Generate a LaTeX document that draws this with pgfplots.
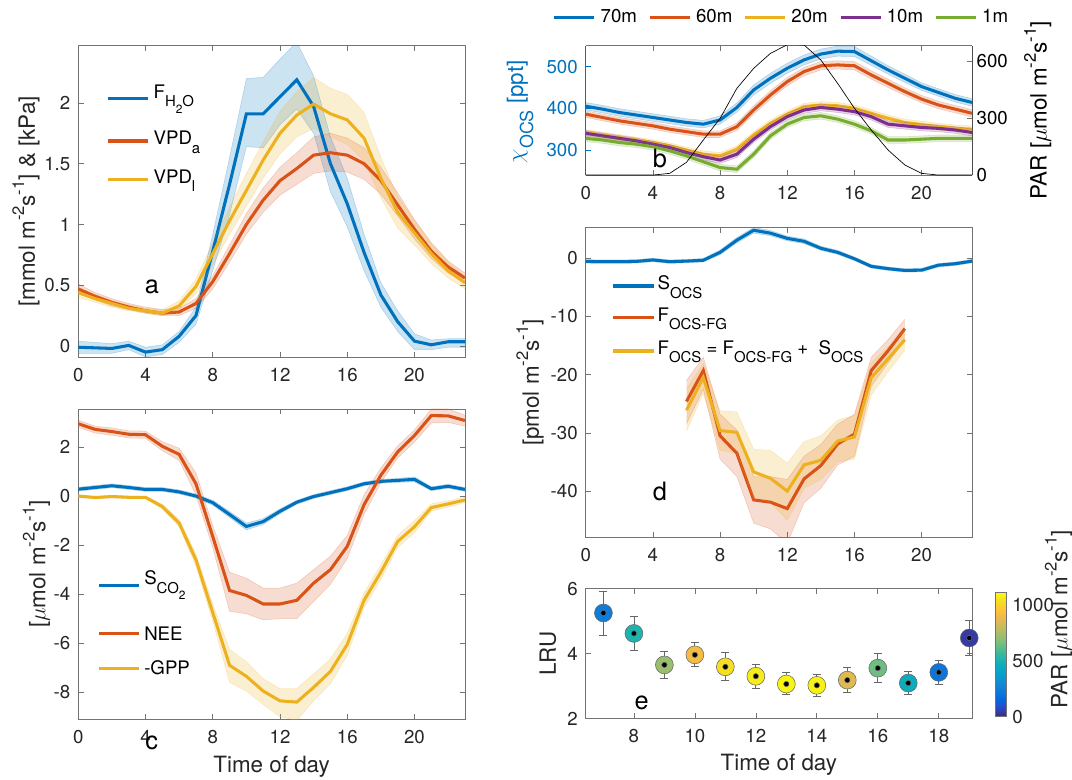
\documentclass[border=0pt]{standalone}
\usepackage{fontspec}
\setmainfont{TeX Gyre Heros}
\usepackage{pgfplots}
\usepackage{pgfplotstable}
\pgfplotsset{compat=1.18}
\usepgfplotslibrary{fillbetween}

\definecolor{mblue}{rgb}{0,0.447,0.741}
\definecolor{mred}{rgb}{0.850,0.325,0.098}
\definecolor{myel}{rgb}{0.929,0.694,0.125}
\definecolor{mpur}{rgb}{0.494,0.184,0.556}
\definecolor{mgrn}{rgb}{0.466,0.674,0.188}
\definecolor{axgray}{rgb}{0.15,0.15,0.15}

% sub- and superscripts in the text font
\makeatletter
\newdimen\scrsz
\newcommand\subs[1]{{\scrsz=\f@size pt\scrsz=0.8\scrsz\raisebox{-0.44em}{\fontsize{\strip@pt\scrsz}{\strip@pt\scrsz}\selectfont #1}}}
\newcommand\sups[1]{{\scrsz=\f@size pt\scrsz=0.74\scrsz\raisebox{0.48em}{\fontsize{\strip@pt\scrsz}{\strip@pt\scrsz}\selectfont #1}}}
\makeatother

% ---------------- data: hour, mean, lower, upper ----------------
\pgfplotstableread{
h m lo hi
0 -0.01 -0.06 0.04
1 -0.015 -0.06 0.03
2 -0.02 -0.06 0.02
3 0.005 -0.03 0.04
4 -0.05 -0.09 -0.01
5 -0.03 -0.07 0.01
6 0.08 0.03 0.12
7 0.25 0.18 0.32
8 0.78 0.62 0.92
9 1.33 1.08 1.55
10 1.91 1.64 2.20
11 1.91 1.63 2.21
12 2.05 1.82 2.36
13 2.19 1.95 2.50
14 1.97 1.75 2.22
15 1.50 1.27 1.72
16 1.17 0.98 1.38
17 0.77 0.62 0.92
18 0.42 0.32 0.52
19 0.20 0.12 0.29
20 0.04 -0.03 0.10
21 0.01 -0.03 0.05
22 0.035 -0.01 0.06
23 0.035 -0.01 0.06
}\tFH
\pgfplotstableread{
h m lo hi
0 0.47 0.43 0.51
1 0.41 0.38 0.44
2 0.36 0.33 0.39
3 0.32 0.30 0.35
4 0.29 0.27 0.32
5 0.27 0.25 0.30
6 0.28 0.25 0.31
7 0.35 0.31 0.39
8 0.53 0.47 0.58
9 0.76 0.69 0.83
10 1.00 0.92 1.09
11 1.20 1.10 1.30
12 1.36 1.24 1.47
13 1.46 1.33 1.59
14 1.57 1.42 1.72
15 1.59 1.44 1.75
16 1.57 1.43 1.71
17 1.50 1.37 1.63
18 1.36 1.25 1.47
19 1.16 1.07 1.26
20 0.96 0.88 1.04
21 0.78 0.72 0.85
22 0.65 0.60 0.70
23 0.56 0.52 0.60
}\tVa
\pgfplotstableread{
h m lo hi
0 0.44 0.40 0.48
1 0.39 0.36 0.42
2 0.35 0.32 0.37
3 0.31 0.29 0.34
4 0.29 0.27 0.31
5 0.27 0.25 0.30
6 0.33 0.30 0.37
7 0.49 0.43 0.55
8 0.76 0.67 0.85
9 1.03 0.92 1.14
10 1.28 1.15 1.42
11 1.53 1.38 1.68
12 1.75 1.58 1.93
13 1.90 1.72 2.09
14 1.99 1.79 2.21
15 1.91 1.72 2.12
16 1.86 1.66 2.07
17 1.71 1.52 1.92
18 1.38 1.22 1.55
19 1.10 0.97 1.23
20 0.93 0.83 1.03
21 0.76 0.68 0.84
22 0.62 0.56 0.69
23 0.52 0.47 0.57
}\tVl

\pgfplotstableread{
h m lo hi
0 0.28 0.20 0.36
1 0.35 0.27 0.43
2 0.42 0.34 0.50
3 0.35 0.27 0.43
4 0.27 0.19 0.35
5 0.27 0.19 0.35
6 0.17 0.09 0.25
7 0.00 -0.08 0.08
8 -0.27 -0.37 -0.17
9 -0.75 -0.87 -0.63
10 -1.24 -1.38 -1.10
11 -1.04 -1.16 -0.92
12 -0.62 -0.72 -0.52
13 -0.25 -0.33 -0.17
14 -0.02 -0.10 0.06
15 0.14 0.06 0.22
16 0.30 0.22 0.38
17 0.50 0.42 0.58
18 0.60 0.52 0.68
19 0.64 0.56 0.72
20 0.68 0.58 0.78
21 0.30 0.22 0.38
22 0.40 0.32 0.48
23 0.27 0.19 0.35
}\tSC
\pgfplotstableread{
h m lo hi
0 2.95 2.80 3.10
1 2.72 2.57 2.85
2 2.63 2.48 2.78
3 2.52 2.37 2.66
4 2.50 2.35 2.65
5 2.03 1.85 2.22
6 1.70 1.45 1.95
7 0.50 0.05 0.95
8 -1.65 -2.10 -1.20
9 -3.85 -4.70 -3.10
10 -4.05 -4.80 -3.35
11 -4.40 -5.05 -3.75
12 -4.40 -5.00 -3.75
13 -4.25 -5.00 -3.55
14 -3.55 -4.30 -3.00
15 -3.00 -3.60 -2.45
16 -2.05 -2.55 -1.60
17 -0.35 -0.75 0.05
18 0.85 0.55 1.15
19 1.80 1.55 2.05
20 2.47 2.20 2.70
21 3.28 2.98 3.55
22 3.27 3.00 3.55
23 3.08 2.85 3.30
}\tNEE
\pgfplotstableread{
h m lo hi
0 0.00 -0.05 0.05
1 -0.06 -0.11 -0.01
2 -0.02 -0.07 0.03
3 -0.05 -0.10 0.00
4 -0.05 -0.10 0.00
5 -0.43 -0.53 -0.33
6 -1.10 -1.25 -0.95
7 -2.60 -2.85 -2.35
8 -4.75 -5.10 -4.40
9 -6.90 -7.60 -6.25
10 -7.35 -7.95 -6.75
11 -7.95 -8.50 -7.45
12 -8.35 -9.00 -7.85
13 -8.40 -9.15 -7.85
14 -7.80 -8.35 -7.25
15 -7.15 -7.65 -6.65
16 -6.05 -6.50 -5.60
17 -4.25 -4.55 -3.95
18 -3.10 -3.40 -2.80
19 -1.85 -2.10 -1.60
20 -1.25 -1.50 -1.00
21 -0.47 -0.62 -0.32
22 -0.32 -0.45 -0.19
23 -0.16 -0.27 -0.05
}\tGPP

\pgfplotstableread{
h m lo hi
0 405 396 414
1 398 389 407
2 390 381 399
3 384 375 393
4 378 369 387
5 372 363 381
6 366 357 375
7 362 353 371
8 372 362 382
9 402 391 413
10 444 432 456
11 472 460 484
12 496 484 508
13 516 504 528
14 530 518 542
15 537 525 549
16 536 524 548
17 514 503 525
18 492 482 502
19 472 462 482
20 452 443 461
21 438 429 447
22 424 415 433
23 414 405 423
}\tBa
\pgfplotstableread{
h m lo hi
0 386 378 394
1 378 370 386
2 370 362 378
3 364 356 372
4 358 350 366
5 350 342 358
6 344 336 352
7 338 330 346
8 338 330 346
9 356 347 365
10 396 386 406
11 432 422 442
12 464 454 474
13 488 478 498
14 502 492 512
15 504 494 514
16 502 492 512
17 480 470 490
18 460 450 470
19 440 431 449
20 422 413 431
21 408 399 417
22 398 389 407
23 388 379 397
}\tBb
\pgfplotstableread{
h m lo hi
0 342 335 349
1 336 329 343
2 330 323 337
3 324 317 331
4 318 311 325
5 310 303 317
6 300 293 307
7 290 282 298
8 286 278 294
9 302 294 310
10 336 328 344
11 364 356 372
12 386 378 394
13 404 396 412
14 408 400 416
15 406 398 414
16 400 392 408
17 388 380 396
18 376 368 384
19 366 358 374
20 361 353 369
21 356 348 364
22 352 344 360
23 350 342 358
}\tBc
\pgfplotstableread{
h m lo hi
0 340 333 347
1 334 327 341
2 328 321 335
3 322 315 329
4 314 307 321
5 306 299 313
6 294 287 301
7 284 276 292
8 276 268 284
9 290 282 298
10 326 318 334
11 356 348 364
12 380 372 388
13 396 388 404
14 402 394 410
15 398 390 406
16 392 384 400
17 380 372 388
18 362 354 370
19 358 350 366
20 354 346 362
21 352 344 360
22 348 340 356
23 342 334 350
}\tBd
\pgfplotstableread{
h m lo hi
0 328 320 336
1 324 316 332
2 318 310 326
3 314 306 322
4 308 300 316
5 298 290 306
6 286 278 294
7 272 264 280
8 258 250 266
9 254 246 262
10 290 282 298
11 334 326 342
12 362 354 370
13 378 370 386
14 382 374 390
15 374 366 382
16 362 354 370
17 346 338 354
18 324 316 332
19 324 316 332
20 326 318 334
21 328 320 336
22 328 320 336
23 328 320 336
}\tBe
\pgfplotstableread{
h par
0 0
1 0
2 0
3 0
4 0
5 9
6 67
7 184
8 298
9 456
10 561
11 640
12 685
13 684
14 605
15 482
16 351
17 237
18 132
19 53
20 9
21 0
22 0
23 0
}\tPAR

\pgfplotstableread{
h m lo hi
0 -0.55 -0.85 -0.25
1 -0.60 -0.90 -0.30
2 -0.60 -0.90 -0.30
3 -0.55 -0.85 -0.25
4 -0.30 -0.60 0.00
5 -0.60 -0.90 -0.30
6 -0.50 -0.80 -0.20
7 -0.35 -0.65 -0.05
8 1.00 0.60 1.40
9 3.10 2.65 3.55
10 4.80 4.30 5.30
11 4.30 3.85 4.75
12 3.40 3.00 3.80
13 2.90 2.50 3.30
14 1.70 1.35 2.05
15 1.00 0.65 1.35
16 -0.10 -0.40 0.20
17 -1.40 -1.70 -1.10
18 -1.80 -2.10 -1.50
19 -2.10 -2.40 -1.80
20 -2.05 -2.35 -1.75
21 -1.20 -1.50 -0.90
22 -0.95 -1.25 -0.65
23 -0.50 -0.80 -0.20
}\tSO
\pgfplotstableread{
h m lo hi
6 -24.6 -28.5 -21.0
7 -19.3 -22.5 -17.0
8 -30.5 -34.5 -26.8
9 -33.5 -37.5 -29.5
10 -41.5 -45.5 -37.5
11 -41.9 -46.5 -37.5
12 -43.0 -49.0 -38.0
13 -37.9 -42.0 -34.0
14 -35.6 -39.5 -32.0
15 -31.9 -35.5 -28.5
16 -30.2 -34.0 -26.8
17 -19.3 -22.0 -17.0
18 -15.9 -18.0 -14.0
19 -12.1 -14.0 -10.5
}\tFG
\pgfplotstableread{
h m lo hi
6 -26.1 -29.7 -22.5
7 -20.5 -23.2 -18.0
8 -29.6 -33.0 -26.2
9 -29.9 -33.5 -26.4
10 -36.7 -41.0 -32.8
11 -37.8 -42.0 -33.0
12 -40.0 -45.0 -35.2
13 -35.5 -39.5 -31.5
14 -34.7 -38.0 -30.5
15 -31.4 -35.0 -27.8
16 -30.7 -34.5 -27.0
17 -20.5 -23.5 -18.0
18 -17.3 -19.5 -15.2
19 -14.0 -15.8 -12.3
}\tFO

% LRU: hour, value, error up, error down, PAR
\pgfplotstableread{
h v ep em par
7 5.25 0.67 0.70 245
8 4.62 0.52 0.51 510
9 3.65 0.43 0.42 720
10 3.96 0.37 0.37 915
11 3.59 0.43 0.41 1040
12 3.30 0.38 0.37 1075
13 3.06 0.35 0.33 1100
14 3.02 0.35 0.35 1090
15 3.18 0.38 0.39 860
16 3.55 0.45 0.45 650
17 3.09 0.35 0.35 460
18 3.42 0.38 0.37 210
19 4.48 0.54 0.53 45
}\tE

% shaded band between the lower and upper columns of a table
\newcommand\band[3]{%
  \addplot[draw=#2, draw opacity=0.25, line width=0.4pt, forget plot, name path=#3u] table[x=h,y=hi]{#1};
  \addplot[draw=#2, draw opacity=0.25, line width=0.4pt, forget plot, name path=#3l] table[x=h,y=lo]{#1};
  \addplot[fill=#2, fill opacity=0.2, draw=none, forget plot] fill between[of=#3u and #3l];
}
% one key entry: colour, line from x1 to x2 at height y, text at (xt, baseline)
\newcommand\keyline[7]{%
  \draw[#1, line width=2.3pt] (#2pt,-#4pt) -- (#3pt,-#4pt);
  \node[anchor=base west, inner sep=0pt] at (#5pt,-#6pt) {#7};
}

\pgfplotsset{
  colormap={parula}{
    rgb=(0.2081,0.1663,0.5292) rgb=(0.2081,0.2386,0.6771)
    rgb=(0.1253,0.3242,0.8303) rgb=(0.0060,0.4086,0.8828)
    rgb=(0.0498,0.4586,0.8641) rgb=(0.0779,0.5040,0.8384)
    rgb=(0.0641,0.5570,0.8240) rgb=(0.0265,0.6137,0.8135)
    rgb=(0.0228,0.6535,0.7768) rgb=(0.0590,0.6838,0.7254)
    rgb=(0.1453,0.7098,0.6646) rgb=(0.2586,0.7317,0.5954)
    rgb=(0.3953,0.7459,0.5244) rgb=(0.5300,0.7491,0.4661)
    rgb=(0.6473,0.7456,0.4188) rgb=(0.7525,0.7384,0.3768)
    rgb=(0.8507,0.7299,0.3360) rgb=(0.9450,0.7261,0.2886)
    rgb=(0.9990,0.7653,0.2164) rgb=(0.9789,0.8271,0.1633)
    rgb=(0.9589,0.8949,0.1132) rgb=(0.9763,0.9831,0.0538)
  },
  panel/.style={
    scale only axis, anchor=north west,
    xmin=0, xmax=23, xtick={0,4,8,12,16,20},
    tick align=inside, major tick length=4pt,
    axis line style={draw=black!55, line width=0.5pt},
    tick style={draw=black!55, line width=0.5pt},
    tick label style={font=\fontsize{14}{16}\selectfont, text=axgray},
    xticklabel style={yshift=-4.5pt},
    yticklabel style={xshift=-2.5pt},
    label style={font=\fontsize{16.8}{19}\selectfont, text=axgray},
    /pgf/number format/assume math mode=true,
    /pgf/number format/1000 sep={},
    legend cell align=left,
    legend image code/.code={\draw[##1,line width=2.3pt] (0pt,0pt) -- (30pt,0pt);},
    legend style={draw=none, fill=none, font=\fontsize{14}{16}\selectfont,
      inner sep=0pt, nodes={inner sep=1.5pt},
      /tikz/every odd column/.append style={column sep=2pt}},
  },
  ln/.style={line width=2.3pt, #1},
}

\begin{document}
\begin{tikzpicture}

% ---------- a ----------
\begin{axis}[panel, at={(58.7pt,-34.3pt)}, width=290pt, height=233.7pt,
  ymin=-0.093, ymax=2.47, ytick={0,0.5,1,1.5,2},
  ylabel={[mmol m\sups{-2}s\sups{-1}] \& [kPa]},
  ylabel style={at={(axis description cs:-0.135,0.5)}, anchor=center}]
\band{\tFH}{mblue}{fh}
\addplot[ln=mblue] table[x=h,y=m]{\tFH};
\band{\tVa}{mred}{va}
\addplot[ln=mred] table[x=h,y=m]{\tVa};
\band{\tVl}{myel}{vl}
\addplot[ln=myel] table[x=h,y=m]{\tVl};
\end{axis}

% ---------- c ----------
\begin{axis}[panel, at={(58.7pt,-306.75pt)}, width=290pt, height=232.7pt,
  ymin=-9.1, ymax=3.55, ytick={-8,-6,-4,-2,0,2},
  ylabel={[$\mu$mol m\sups{-2}s\sups{-1}]},
  ylabel style={at={(axis description cs:-0.108,0.5)}, anchor=center},
  xlabel={Time of day},
  xlabel style={at={(axis description cs:0.5,-0.153)}, anchor=center}]
\band{\tSC}{mblue}{sc}
\addplot[ln=mblue] table[x=h,y=m]{\tSC};
\band{\tNEE}{mred}{ne}
\addplot[ln=mred] table[x=h,y=m]{\tNEE};
\band{\tGPP}{myel}{gp}
\addplot[ln=myel] table[x=h,y=m]{\tGPP};
\end{axis}

% ---------- b (left axis: mixing ratios) ----------
\begin{axis}[panel, at={(439.3pt,-34.3pt)}, width=289.7pt, height=97pt,
  axis x line*=box, axis y line*=left,
  y axis line style={draw=mblue}, ytick style={draw=mblue},
  yticklabel style={text=mblue},
  ymin=240, ymax=550, ytick={300,400,500},
  ylabel={$\chi$\subs{OCS} [ppt]},
  ylabel style={at={(axis description cs:-0.17,0.49)}, anchor=center, text=mblue},
  legend columns=5,
  legend style={at={(axis description cs:0.5,1)}, anchor=center, xshift=2pt, yshift=21.3pt,
    /tikz/every even column/.append style={column sep=7pt}}]
\band{\tBa}{mblue}{ba}
\addplot[ln=mblue] table[x=h,y=m]{\tBa};
\addlegendentry{70m}
\band{\tBb}{mred}{bb}
\addplot[ln=mred] table[x=h,y=m]{\tBb};
\addlegendentry{60m}
\band{\tBc}{myel}{bc}
\addplot[ln=myel] table[x=h,y=m]{\tBc};
\addlegendentry{20m}
\band{\tBd}{mpur}{bd}
\addplot[ln=mpur] table[x=h,y=m]{\tBd};
\addlegendentry{10m}
\band{\tBe}{mgrn}{be}
\addplot[ln=mgrn] table[x=h,y=m]{\tBe};
\addlegendentry{1m}
\end{axis}
% ---------- b (right axis: PAR) ----------
\begin{axis}[panel, at={(439.3pt,-34.3pt)}, width=289.7pt, height=97pt,
  axis x line=none, axis y line*=right,
  y axis line style={draw=black!70},
  ymin=0, ymax=680, ytick={0,300,600},
  yticklabel style={xshift=2.5pt, text=black},
  ylabel={PAR [$\mu$mol m\sups{-2}s\sups{-1}]},
  ylabel style={at={(axis description cs:1.17,0.5)}, anchor=center, text=black}]
\addplot[black, line width=0.5pt] table[x=h,y=par]{\tPAR};
\end{axis}

% ---------- d ----------
\begin{axis}[panel, at={(439.3pt,-170.5pt)}, width=289.7pt, height=232.8pt,
  ymin=-48, ymax=5.3, ytick={-40,-30,-20,-10,0},
  ylabel={[pmol m\sups{-2}s\sups{-1}]},
  ylabel style={at={(axis description cs:-0.144,0.5)}, anchor=center}]
\band{\tSO}{mblue}{so}
\addplot[ln=mblue] table[x=h,y=m]{\tSO};
\band{\tFG}{mred}{fg}
\addplot[ln=mred] table[x=h,y=m]{\tFG};
\band{\tFO}{myel}{fo}
\addplot[ln=myel] table[x=h,y=m]{\tFO};
\end{axis}

% ---------- e ----------
\begin{axis}[panel, at={(439.3pt,-441.5pt)}, width=289.7pt, height=97.3pt,
  xmin=6.42, xmax=19.09, xtick={8,10,12,14,16,18},
  ymin=2, ymax=6, ytick={2,4,6},
  ylabel={LRU},
  ylabel style={at={(axis description cs:-0.098,0.5)}, anchor=center},
  xlabel={Time of day},
  xlabel style={at={(axis description cs:0.5,-0.36)}, anchor=center},
  colormap name=parula, point meta min=0, point meta max=1110,
  colorbar,
  colorbar style={width=8pt, height=93pt, at={(parent axis.east)}, anchor=west,
    xshift=9.2pt, yshift=-0.9pt, ytick={0,500,1000},
    axis line style={draw=black!55, line width=0.5pt},
    major tick length=0pt,
    yticklabel style={font=\fontsize{14}{16}\selectfont, text=axgray, xshift=1pt},
    /pgf/number format/assume math mode=true,
    /pgf/number format/1000 sep={}}]
\addplot[scatter, only marks, mark=*, mark size=6.7pt, point meta=explicit,
  scatter/use mapped color={draw=black!60, fill=mapped color}]
  table[x=h,y=v,meta=par]{\tE};
\addplot[only marks, mark=none, draw=black!60,
  error bars/.cd, y dir=both, y explicit,
  error bar style={line width=0.6pt, black!60},
  error mark options={rotate=90, mark size=3pt, line width=0.6pt, black!60}]
  table[x=h,y=v,y error plus=ep,y error minus=em]{\tE};
\addplot[only marks, mark=*, mark size=0.8pt, black] table[x=h,y=v]{\tE};
\end{axis}

% keys of panels a, c and d
\begin{scope}[font=\fontsize{14}{16}\selectfont]
\keyline{mblue}{80.8}{111.2}{73.7}{115}{73.7}{F\subs{H\subs{2}O}}
\keyline{mred}{80.8}{111.2}{105.75}{115}{108.75}{VPD\subs{a}}
\keyline{myel}{80.8}{111.2}{134.5}{115}{137.5}{VPD\subs{l}}
\keyline{mblue}{74.25}{104.5}{439.3}{108}{438.75}{S\subs{CO\subs{2}}}
\keyline{mred}{74.25}{104.5}{475}{108}{480.75}{NEE}
\keyline{myel}{74.25}{104.5}{501.25}{108}{506.25}{-GPP}
\keyline{mblue}{460}{490.5}{214.5}{493}{217.5}{S\subs{OCS}}
\keyline{mred}{460}{490.5}{238.3}{493}{241.3}{F\subs{OCS-FG}}
\keyline{myel}{460}{490.5}{263.25}{493}{265.75}{F\subs{OCS} = F\subs{OCS-FG} + \ S\subs{OCS}}
\end{scope}

% colorbar label and panel letters
\node[rotate=90, anchor=west, font=\fontsize{16.8}{19}\selectfont, text=axgray]
  at (793.9pt,-534.7pt) {PAR [$\mu$mol m\sups{-2}s\sups{-1}]};
\begin{scope}[font=\fontsize{19}{22}\selectfont]
\node at (114pt,-215.3pt) {a};
\node at (495pt,-118.5pt) {b};
\node at (113.8pt,-557.5pt) {c};
\node at (495pt,-368.8pt) {d};
\node at (481.3pt,-527.5pt) {e};
\end{scope}

% page frame
\pgfresetboundingbox
\path[use as bounding box] (0pt,0pt) rectangle (804pt,-585pt);
\end{tikzpicture}
\end{document}
